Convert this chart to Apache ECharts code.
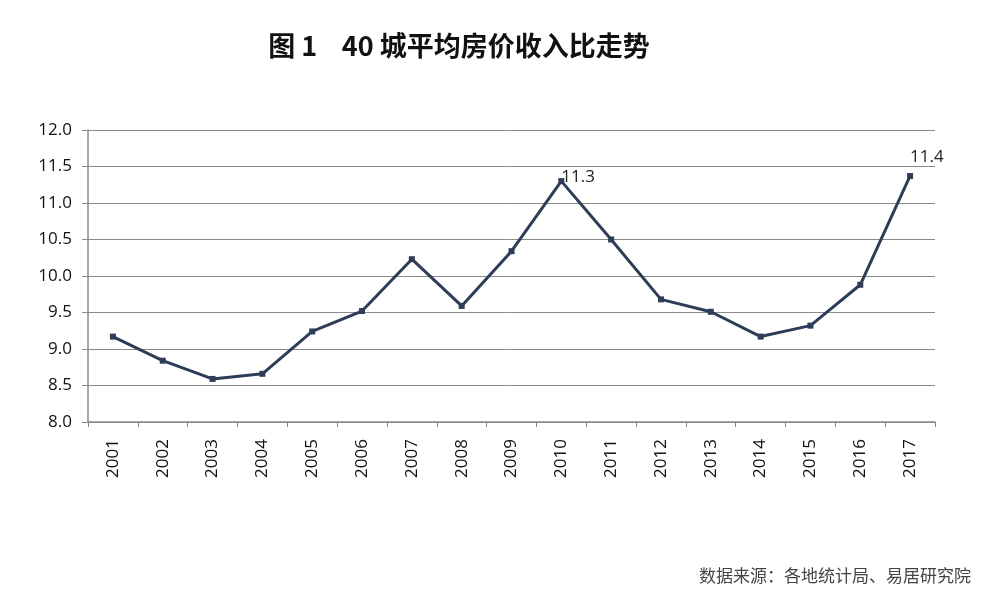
<!DOCTYPE html>
<html>
<head>
<meta charset="utf-8">
<script src="https://cdn.jsdelivr.net/npm/echarts@6/dist/echarts.min.js"></script>
<style>
html,body{margin:0;padding:0;background:#fff;}
#c{width:988px;height:595px;}
</style>
</head>
<body>
<div id="c"></div>
<script>
const years = ['2001','2002','2003','2004','2005','2006','2007','2008','2009','2010','2011','2012','2013','2014','2015','2016','2017'];
const ratio = [9.17,8.84,8.59,8.66,9.24,9.52,10.23,9.59,10.34,11.30,10.50,9.68,9.51,9.17,9.32,9.88,11.37];
const labelIdx = [9, 16];
const titleText = '图 1    40 城平均房价收入比走势';
const sourceText = '数据来源：各地统计局、易居研究院';

const chart = echarts.init(document.getElementById('c'));
const seriesData = ratio.map((v, i) => {
  const d = { value: v };
  if (labelIdx.includes(i)) {
    d.label = {
      show: true,
      position: i === 16 ? [3, -24] : [3, -9],
      formatter: p => p.value.toFixed(1),
      fontSize: 17, color: '#222', fontFamily: 'Open Sans'
    };
  }
  return d;
});
chart.setOption({
  backgroundColor: '#fff',
  animation: false,
  title: [{
    text: titleText, left: 454, top: 27, textAlign: 'center',
    textStyle: { fontSize: 27, fontWeight: 'bold', color: '#111', fontFamily: 'Noto Sans CJK SC' }
  }, {
    text: sourceText, right: 12, top: 562,
    textStyle: { fontSize: 17, fontWeight: 'normal', color: '#444', fontFamily: 'Noto Sans CJK SC' }
  }],
  grid: { left: 88, right: 53, top: 130, bottom: 173, containLabel: false },
  xAxis: {
    type: 'category', data: years, boundaryGap: true,
    axisLine: { lineStyle: { color: '#8a8a8a', width: 1.5 } },
    axisTick: { show: true, length: 5, lineStyle: { color: '#8a8a8a' }, alignWithLabel: false },
    axisLabel: { rotate: 90, fontSize: 17, color: '#111', fontFamily: 'Open Sans', margin: 17 }
  },
  yAxis: {
    type: 'value', min: 8, max: 12, interval: 0.5,
    axisLine: { show: true, lineStyle: { color: '#8a8a8a', width: 1.5 } },
    axisTick: { show: true, length: 6, lineStyle: { color: '#8a8a8a' } },
    splitLine: { lineStyle: { color: '#8a8a8a', width: 1 } },
    axisLabel: { formatter: v => v.toFixed(1), fontSize: 17, color: '#111', fontFamily: 'Open Sans', margin: 16 }
  },
  series: [{
    type: 'line', data: seriesData,
    symbol: 'rect', symbolSize: 6,
    lineStyle: { color: '#2e3d57', width: 3 },
    itemStyle: { color: '#2e3d57' }
  }]
});
</script>
</body>
</html>
